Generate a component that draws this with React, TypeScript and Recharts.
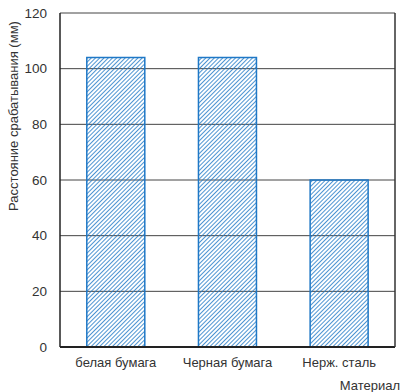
import React from 'react';
import { BarChart, Bar, XAxis, YAxis, CartesianGrid, Label } from 'recharts';

const categories = ['белая бумага', 'Черная бумага', 'Нерж. сталь'];
const distances = [104, 104, 60];
const yTicks = [0, 20, 40, 60, 80, 100, 120];

const data = categories.map((name, i) => ({ name, value: distances[i] }));

const FONT = '"Liberation Sans", Arial, sans-serif';

export default function App() {
  return (
    <div style={{ position: 'absolute', left: 0, top: 0, width: 400, height: 392, background: '#fff' }}>
      <BarChart width={400} height={392} data={data} margin={{ top: 13, right: 4, bottom: 15, left: 0 }} barCategoryGap="24%">
        <defs>
          <pattern id="hatch" patternUnits="userSpaceOnUse" width="3" height="3" patternTransform="rotate(45)">
            <line x1="0" y1="0" x2="0" y2="3" stroke="#1f78c6" strokeWidth="1.6" />
          </pattern>
        </defs>
        <CartesianGrid yAxisId="left" vertical={false} stroke="#444" strokeWidth={1} />
        <XAxis
          dataKey="name"
          height={30}
          tickLine={false}
          axisLine={{ stroke: '#222', strokeWidth: 2 }}
          tick={{ fill: '#333', fontSize: 13, fontFamily: FONT }}
          tickMargin={5}
        >
          <Label
            content={() => (
              <text x={400} y={390} textAnchor="end" fill="#333" fontSize={13} fontFamily={FONT}>Материал</text>
            )}
          />
        </XAxis>
        <YAxis
          yAxisId="left"
          domain={[0, 120]}
          ticks={yTicks}
          width={60}
          tickLine={false}
          axisLine={{ stroke: '#222', strokeWidth: 1.5 }}
          tick={{ fill: '#333', fontSize: 13.5, fontFamily: FONT }}
          tickMargin={7}
          interval={0}
        >
          <Label
            content={() => (
              <text x={0} y={0} transform="translate(18,116) rotate(-90)" textAnchor="middle" fill="#333" fontSize={13} fontFamily={FONT}>
                Расстояние срабатывания (мм)
              </text>
            )}
          />
        </YAxis>
        <YAxis yAxisId="right" orientation="right" width={1} domain={[0, 120]} ticks={yTicks} tick={false} tickLine={false} axisLine={{ stroke: '#333', strokeWidth: 1.5 }} />
        <Bar yAxisId="left" dataKey="value" fill="url(#hatch)" stroke="#1f78c6" strokeWidth={1.5} isAnimationActive={false} />
      </BarChart>
    </div>
  );
}
